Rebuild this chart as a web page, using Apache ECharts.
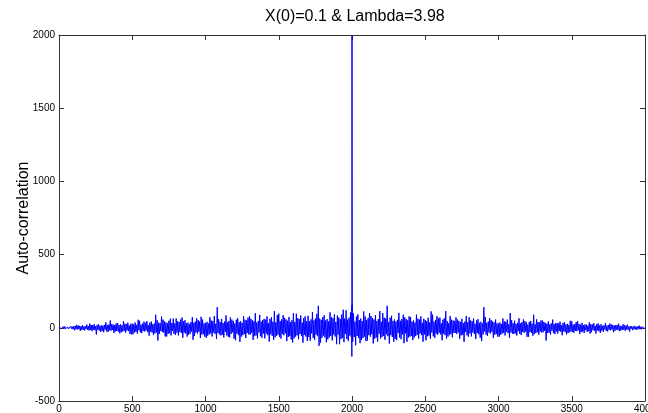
<!DOCTYPE html>
<html>
<head>
<meta charset="utf-8">
<script src="https://cdn.jsdelivr.net/npm/echarts@6/dist/echarts.min.js"></script>
<style>
html,body{margin:0;padding:0;background:#fff;}
#chart{width:648px;height:413px;}
</style>
</head>
<body>
<div id="chart"></div>
<script>
// Chart text
var titleText = 'X(0)=0.1 & Lambda=3.98';
var yAxisTitle = 'Auto-correlation';
var xTicks = [0, 500, 1000, 1500, 2000, 2500, 3000, 3500, 4000];
var yTicks = [-500, 0, 500, 1000, 1500, 2000];

// Auto-correlation values read (estimated) from the picture, every 5 lags from 0 to 4000
var acfValues = [
  7,-5,10,-6,4,-12,8,-6,9,-7, 5,-11,6,-8,5,-7,11,-6,8,-9,
  10,-17,13,-10,20,-12,16,-8,13,-21, 11,-14,17,-13,9,-18,12,-8,22,-14,
  12,-18,29,-15,20,-23,18,-13,25,-16, 11,-45,20,-14,23,-18,14,-27,16,-22,
  15,-31,20,-13,37,-24,18,-29,22,-17, 50,-20,26,-14,22,-35,19,-24,29,-22,
  33,-25,19,-38,23,-30,16,-25,45,-21, 28,-33,25,-18,35,-23,15,-43,28,-44,
  28,-45,24,-31,36,-28,20,-39,55,-17, 48,-31,22,-36,28,-21,42,-25,34,-18,
  45,-29,19,-54,35,-26,42,-32,24,-48, 29,-38,89,-32,51,-87,35,-42,32,-22,
  77,-28,56,-33,44,-59,37,-59,31,-41, 48,-37,62,-52,33,-22,63,-41,30,-48,
  64,-34,44,-52,40,-28,56,-36,70,-68, 44,-32,52,-40,30,-60,36,-48,26,-40,
  39,-26,73,-82,34,-56,43,-32,65,-39, 52,-28,43,-69,75,-47,56,-43,30,-60,
  34,-68,41,-54,29,-45,72,-38,50,-59, 45,-32,80,-41,27,-77,141,-36,59,-45,
  40,-52,61,-47,33,-66,42,-28,85,-52, 38,-61,47,-65,71,-42,56,-31,47,-75,
  30,-85,55,-40,65,-50,38,-96,45,-60, 33,-50,80,-43,55,-70,50,-35,70,-45,
  78,-47,62,-34,52,-83,44,-57,100,-52, 36,-73,47,-31,88,-57,42,-68,52,-39,
  61,-72,55,-39,77,-50,33,-94,61,-44, 72,-55,41,-83,114,-66,36,-55,88,-47,
  97,-63,46,-74,57,-43,86,-51,68,-37, 57,-91,48,-63,74,-57,40,-80,51,-100,
  100,-72,39,-60,96,-51,66,-78,60,-42, 84,-54,36,-102,66,-48,78,-60,45,-90,
  82,-63,44,-88,57,-38,107,-69,50,-82, 63,-47,95,-57,150,-123,63,-101,54,-69,
  73,-53,86,-66,50,-99,59,-79,43,-66, 106,-56,73,-86,66,-46,92,-59,40,-112,
  84,-46,70,-112,60,-77,91,-70,123,-98, 63,-42,119,-77,56,-91,70,-53,105,-63,
  157,-95,98,-63,42,-119,77,-56,91,-70, 53,-105,63,-84,46,-70,112,-60,77,-91,
  54,-87,67,-50,101,-60,80,-44,67,-107, 57,-74,87,-67,47,-94,60,-40,114,-74,
  41,-63,101,-54,69,-82,63,-44,150,-57, 38,-107,69,-50,82,-63,47,-95,57,-76,
  42,-84,54,-36,102,-66,48,-78,60,-45, 90,-105,72,-39,60,-96,51,-66,78,-60,
  73,-56,42,-84,50,-67,36,-56,90,-48, 62,-73,56,-39,78,-50,34,-95,62,-45,
  53,-85,45,-58,69,-53,37,-74,112,-32, 90,-58,42,-69,53,-40,80,-48,64,-34,
  70,-45,30,-85,55,-40,65,-50,114,-75, 45,-60,33,-50,80,-43,55,-65,50,-35,
  47,-35,71,-42,56,-31,47,-75,40,-52, 61,-47,33,-96,42,-28,80,-52,38,-61,
  72,-38,50,-59,45,-32,63,-41,27,-77, 50,-36,59,-45,34,-68,41,-91,29,-45,
  141,-26,73,-47,34,-56,43,-32,65,-39, 52,-28,43,-69,37,-47,56,-43,30,-60,
  30,-60,36,-48,26,-40,64,-34,44,-52, 40,-28,56,-36,24,-68,100,-32,52,-40,
  32,-42,49,-38,27,-53,34,-23,65,-42, 30,-49,38,-29,57,-34,46,-25,38,-61,
  22,-61,40,-29,47,-36,27,-54,89,-43, 23,-36,58,-31,40,-47,36,-25,50,-32,
  50,-30,40,-21,33,-87,28,-36,43,-33, 23,-46,30,-20,56,-36,26,-43,33,-25,
  33,-39,30,-21,42,-27,18,-51,33,-24, 39,-30,23,-45,27,-36,20,-30,48,-26,
  44,-29,21,-34,26,-20,39,-23,45,-17, 26,-42,22,-29,34,-26,18,-36,23,-16,
  21,-28,15,-23,37,-40,25,-30,23,-16, 32,-21,14,-39,25,-18,30,-23,17,-35,
  25,-19,13,-27,17,-11,32,-21,15,-25, 19,-14,29,-17,23,-12,19,-30,16,-21,
  17,-12,20,-15,28,-23,14,-18,10,-15, 24,-13,17,-20,15,-11,21,-14,9,-26,
  12,-7,10,-16,8,-11,13,-10,7,-14, 9,-6,15,-10,7,-10,8,-5,9,-4,
  2
];
var lagMin = 0, lagMax = 4000;

// Lags around the central peak, read individually
var peakLags = [1998, 1999, 2000, 2001, 2002];
var peakValues = [60, -196, 1995, 895, 40];

var lagStep = (lagMax - lagMin) / (acfValues.length - 1);
var mainData = acfValues.map(function (v, i) { return [lagMin + i * lagStep, v]; });
var peakData = peakLags.map(function (l, i) { return [l, peakValues[i]]; });

var axisColor = '#333';
var fontFam = 'Liberation Sans, Arial, sans-serif';
var labelFont = { color: '#000', fontSize: 10, fontFamily: fontFam };
function plain(v) { return String(v); }

var chart = echarts.init(document.getElementById('chart'), null, { renderer: 'canvas' });
chart.setOption({
  animation: false,
  backgroundColor: '#fff',
  title: {
    text: titleText,
    left: 260, top: 4,
    textStyle: { fontSize: 16, fontWeight: 'normal', color: '#000', fontFamily: fontFam }
  },
  grid: { left: 59, right: 3, top: 35, bottom: 12, containLabel: false, outerBoundsMode: 'none' },
  xAxis: [{
    type: 'value', min: xTicks[0], max: xTicks[xTicks.length - 1], interval: 500,
    position: 'bottom',
    axisLine: { show: true, onZero: false, lineStyle: { color: axisColor, width: 1 } },
    axisTick: { show: true, inside: true, length: 5, lineStyle: { color: axisColor } },
    axisLabel: Object.assign({ margin: 3, showMaxLabel: true, showMinLabel: true, hideOverlap: false, formatter: plain }, labelFont),
    splitLine: { show: false }
  }, {
    type: 'value', min: xTicks[0], max: xTicks[xTicks.length - 1], interval: 500,
    position: 'top',
    axisLine: { show: true, onZero: false, lineStyle: { color: axisColor, width: 1 } },
    axisTick: { show: true, inside: true, length: 5, lineStyle: { color: axisColor } },
    axisLabel: { show: false },
    splitLine: { show: false }
  }],
  yAxis: [{
    type: 'value', min: yTicks[0], max: yTicks[yTicks.length - 1], interval: 500,
    position: 'left',
    name: yAxisTitle, nameLocation: 'middle', nameRotate: 90, nameGap: 27, nameMoveOverlap: false,
    nameTextStyle: { fontSize: 16, color: '#000', fontFamily: fontFam },
    axisLine: { show: true, onZero: false, lineStyle: { color: axisColor, width: 1 } },
    axisTick: { show: true, inside: true, length: 5, lineStyle: { color: axisColor } },
    axisLabel: Object.assign({ margin: 4, formatter: plain }, labelFont),
    splitLine: { show: false }
  }, {
    type: 'value', min: yTicks[0], max: yTicks[yTicks.length - 1], interval: 500,
    position: 'right',
    axisLine: { show: true, onZero: false, lineStyle: { color: axisColor, width: 1 } },
    axisTick: { show: true, inside: true, length: 5, lineStyle: { color: axisColor } },
    axisLabel: { show: false },
    splitLine: { show: false }
  }],
  series: [{
    type: 'line', data: mainData, showSymbol: false, symbol: 'none', sampling: null,
    lineStyle: { color: '#0000ff', width: 1 }, clip: true, silent: true
  }, {
    type: 'line', data: peakData, showSymbol: false, symbol: 'none',
    lineStyle: { color: '#0000ff', width: 1 }, clip: true, silent: true
  }]
});
</script>
</body>
</html>
